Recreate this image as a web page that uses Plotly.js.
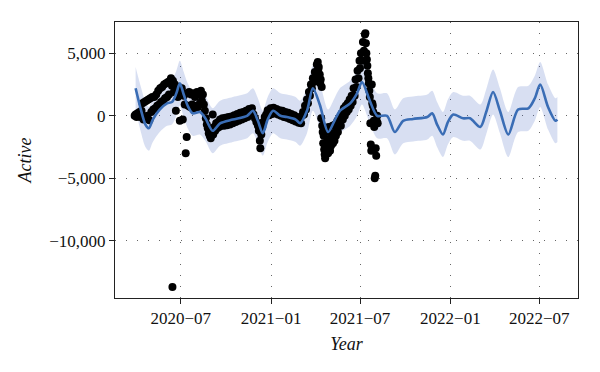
<!DOCTYPE html>
<html>
<head>
<meta charset="utf-8">
<script src="https://cdn.plot.ly/plotly-3.0.1.min.js"></script>
<style>html,body{margin:0;padding:0;background:#fff;}#chart{width:600px;height:372px;}</style>
</head>
<body>
<div id="chart"></div>
<script>
// Observed values (black dots), split by period
const datesA = [
"2020-03-29","2020-03-31","2020-04-02","2020-04-04","2020-04-06","2020-04-08","2020-04-10","2020-04-12",
"2020-04-14","2020-04-16","2020-04-18","2020-04-20","2020-04-22","2020-04-24","2020-04-26","2020-04-28","2020-04-30",
"2020-05-02","2020-05-04","2020-05-06","2020-05-08","2020-05-10","2020-05-12","2020-05-14","2020-05-16","2020-05-18",
"2020-05-20","2020-05-22","2020-05-24","2020-05-26","2020-05-28","2020-05-30",
"2020-06-01","2020-06-03","2020-06-05","2020-06-07","2020-06-09","2020-06-11"
];
const valuesA = [
0,100,-100,200,0,300,-100,400,
1000,-300,1100,-200,1200,0,1300,-350,1400,
300,1500,500,1500,600,1700,800,2000,900,
2200,1100,2300,1200,2500,1400,
2600,1500,2700,1700,2800,3000
];
const datesB = [
"2020-06-13","2020-06-14","2020-06-15","2020-06-17","2020-06-19","2020-06-21","2020-06-23","2020-06-25","2020-06-27","2020-06-29",
"2020-07-01","2020-07-03","2020-07-05","2020-07-07","2020-07-09","2020-07-11","2020-07-13","2020-07-14","2020-07-16","2020-07-18",
"2020-07-20","2020-07-22","2020-07-24","2020-07-26","2020-07-28","2020-07-30","2020-08-01","2020-08-03","2020-08-05","2020-08-07",
"2020-08-09","2020-08-11","2020-08-13","2020-08-15","2020-08-17","2020-08-19","2020-08-21","2020-08-23","2020-08-25","2020-08-27",
"2020-08-29","2020-08-31","2020-09-02","2020-09-04","2020-09-05","2020-09-07","2020-09-09","2020-09-11","2020-09-13","2020-09-15",
"2020-09-17","2020-09-19","2020-09-21"
];
const valuesB = [
2400,-13700,2800,1900,2500,400,2100,1500,2300,-400,
1900,2200,-300,1600,900,-3000,-1700,1800,800,1900,
700,1700,900,1800,600,1500,800,1900,700,1700,
1000,2000,1200,1700,900,400,-200,-700,-1000,-1400,
-1600,-1800,-1300,100,-1500,-900,-1200,-600,-1000,-500,
-900,-300,-800
];
const datesC = [
"2020-09-24","2020-09-27","2020-09-30","2020-10-03","2020-10-06","2020-10-09","2020-10-12","2020-10-15","2020-10-18","2020-10-21",
"2020-10-24","2020-10-27","2020-10-30","2020-11-02","2020-11-05","2020-11-08","2020-11-11","2020-11-14","2020-11-17","2020-11-20",
"2020-11-23","2020-11-26","2020-11-29","2020-12-02","2020-12-05","2020-12-07","2020-12-09","2020-12-10","2020-12-12","2020-12-14",
"2020-12-16","2020-12-19","2020-12-22","2020-12-25","2020-12-28","2020-12-31","2021-01-03","2021-01-06","2021-01-09","2021-01-12",
"2021-01-15","2021-01-18","2021-01-21","2021-01-24","2021-01-27","2021-01-30","2021-02-02","2021-02-05","2021-02-08","2021-02-11",
"2021-02-14","2021-02-17","2021-02-20","2021-02-23","2021-02-26","2021-03-01","2021-03-03","2021-03-05"
];
const valuesC = [
-200,-800,-150,-750,-100,-700,-50,-600,50,-500,
150,-400,250,-300,300,-200,400,-100,550,150,
600,100,-200,-500,-800,-1200,-2000,-2600,-1500,-900,
-500,-100,100,450,50,600,150,650,200,550,
100,450,0,400,-100,300,-150,250,-250,150,
-350,50,-450,-100,-550,-200,-600,0
];
const datesD = [
"2021-03-07","2021-03-09","2021-03-11","2021-03-13","2021-03-15","2021-03-17","2021-03-19","2021-03-21","2021-03-23","2021-03-25",
"2021-03-27","2021-03-29","2021-03-31","2021-04-02","2021-04-04","2021-04-06","2021-04-07","2021-04-08","2021-04-10","2021-04-11",
"2021-04-12","2021-04-13","2021-04-14","2021-04-15","2021-04-16","2021-04-17","2021-04-18","2021-04-19","2021-04-20","2021-04-21",
"2021-04-22","2021-04-23","2021-04-24","2021-04-25","2021-04-26","2021-04-27","2021-04-28","2021-04-29","2021-04-30","2021-05-01",
"2021-05-02","2021-05-03","2021-05-05","2021-05-06","2021-05-07","2021-05-09","2021-05-10","2021-05-11","2021-05-13","2021-05-15",
"2021-05-16","2021-05-17","2021-05-19","2021-05-21","2021-05-23","2021-05-25","2021-05-27","2021-05-29","2021-05-31"
];
const valuesD = [
300,100,800,500,1300,1000,1900,1600,2500,2200,
3000,2700,3500,3200,4100,4300,3700,3900,3300,2600,
2900,-200,2300,-800,-1300,-2200,-1600,-2700,-3100,-3400,
-2300,-3100,-1200,-2700,-1900,-3000,-900,-2500,-2000,-2800,
-1400,-2400,-1800,-800,-2200,-1400,-2000,-700,-1600,-1000,
-400,-1300,-600,-200,-800,200,-300,600,0
];
const datesE = [
"2021-06-02","2021-06-04","2021-06-06","2021-06-08","2021-06-10","2021-06-12","2021-06-14","2021-06-16","2021-06-18","2021-06-20",
"2021-06-22","2021-06-24","2021-06-26","2021-06-28","2021-06-30","2021-07-01","2021-07-03","2021-07-05","2021-07-07","2021-07-09",
"2021-07-11","2021-07-12","2021-07-13","2021-07-14","2021-07-15","2021-07-16","2021-07-17","2021-07-18","2021-07-19","2021-07-20",
"2021-07-21","2021-07-22","2021-07-23","2021-07-24","2021-07-25","2021-07-26","2021-07-27","2021-07-28","2021-07-29","2021-07-30",
"2021-07-31","2021-08-01","2021-08-02","2021-08-03","2021-08-04","2021-08-05","2021-08-06"
];
const valuesE = [
800,300,1000,500,1300,800,1600,1100,2200,1600,
2900,2300,3600,3000,4400,3800,5000,4400,5900,5200,
6500,6600,5800,5000,4500,4000,3400,3000,2600,2000,
1500,-600,-2300,-2800,2500,1000,800,300,-400,-900,
-5000,-4800,-2600,-3200,-400,0,-600
];

// Forecast (yhat) with uncertainty interval
const fcstDates = [
"2020-03-31","2020-04-10","2020-04-20","2020-04-27","2020-05-05","2020-05-19","2020-06-03","2020-06-13","2020-06-22","2020-06-29",
"2020-07-07","2020-07-15","2020-07-25","2020-08-09","2020-08-20","2020-09-04","2020-09-19","2020-10-15","2020-11-13","2020-11-25",
"2020-12-05","2020-12-15","2020-12-25","2021-01-05","2021-01-20","2021-02-02","2021-02-20","2021-03-01","2021-03-15","2021-03-27",
"2021-04-10","2021-04-27","2021-05-10","2021-05-21","2021-06-11","2021-06-25","2021-07-05","2021-07-21","2021-08-05","2021-08-25",
"2021-09-10","2021-09-27","2021-10-17","2021-11-15","2021-11-25","2021-12-05","2021-12-17","2021-12-27","2022-01-07","2022-01-27",
"2022-02-10","2022-03-03","2022-03-15","2022-03-29","2022-04-12","2022-04-29","2022-05-19","2022-06-09","2022-06-22","2022-07-03",
"2022-07-19","2022-08-03","2022-08-07"
];
const yhat = [
2200,600,-700,-1000,-300,500,1000,1100,1800,2600,
1700,800,200,300,-200,-1200,-600,-300,0,400,
-400,-1400,-300,400,0,-100,-300,-600,400,2200,
900,-1300,-400,400,1000,1800,2700,1200,0,0,
-1300,-400,-250,-100,200,-700,-1500,-500,100,-200,
-200,-900,300,1900,400,-1500,500,600,1400,2500,
700,-400,-300
];
const yhatUpper = [
3900,2400,1100,700,1400,2300,2800,2900,3600,4400,
3500,2600,2000,2100,1600,600,1200,1500,1800,2200,
1400,400,1500,2200,1800,1700,1500,1200,2200,4000,
2700,500,1400,2200,2800,3600,4500,3000,1800,1800,
500,1400,1550,1700,2000,1100,300,1300,1900,1600,
1600,900,2100,3700,2200,300,2300,2400,3200,4300,
2500,1400,1500
];
const yhatLower = [
500,-1200,-2500,-2800,-2100,-1300,-800,-700,0,800,
-100,-1000,-1600,-1500,-2000,-3000,-2400,-2100,-1800,-1400,
-2200,-3200,-2100,-1400,-1800,-1900,-2100,-2400,-1400,400,
-900,-3100,-2200,-1400,-800,0,900,-600,-1800,-1800,
-3100,-2200,-2050,-1900,-1600,-2500,-3300,-2300,-1700,-2000,
-2000,-2700,-1500,100,-1400,-3300,-1300,-1200,-400,700,
-1100,-2200,-2100
];

const xTickVals = ["2020-07-01","2021-01-01","2021-07-01","2022-01-01","2022-07-01"];
const xTickText = ["2020\u221207","2021\u221201","2021\u221207","2022\u221201","2022\u221207"];
const yTickVals = [5000,0,-5000,-10000];
const yTickText = ["5,000","0","\u22125,000","\u221210,000"];

const actualDates = [].concat(datesA, datesB, datesC, datesD, datesE);
const actualValues = [].concat(valuesA, valuesB, valuesC, valuesD, valuesE);

const lineBlue = '#3a6db5';
const bandFill = 'rgba(58,95,190,0.2)';

const traces = [
  {x: fcstDates, y: yhatLower, type: 'scatter', mode: 'lines',
   line: {width: 0, shape: 'spline', smoothing: 0.8}, hoverinfo: 'skip'},
  {x: fcstDates, y: yhatUpper, type: 'scatter', mode: 'lines', fill: 'tonexty',
   fillcolor: bandFill, line: {width: 0, shape: 'spline', smoothing: 0.8}, hoverinfo: 'skip'},
  {x: actualDates, y: actualValues, type: 'scatter', mode: 'markers',
   marker: {color: '#000', size: 8}, hoverinfo: 'skip'},
  {x: fcstDates, y: yhat, type: 'scatter', mode: 'lines',
   line: {color: lineBlue, width: 2.6, shape: 'spline', smoothing: 0.8}, hoverinfo: 'skip'}
];

const tickFont = {family: '"Liberation Serif", "DejaVu Serif", serif', size: 17, color: '#111'};
const titleFont = {family: '"Liberation Serif", "DejaVu Serif", serif', size: 18, color: '#111', style: 'italic'};

const layout = {
  width: 600, height: 372,
  margin: {l: 115, r: 22, t: 22, b: 74},
  paper_bgcolor: '#fff', plot_bgcolor: '#fff',
  showlegend: false,
  xaxis: {
    type: 'date',
    range: ['2020-02-18', '2022-09-18'],
    tickvals: xTickVals, ticktext: xTickText,
    ticks: 'outside', ticklen: 5, tickcolor: '#222', tickwidth: 1,
    showline: true, linecolor: '#222', linewidth: 1, mirror: true,
    showgrid: true, gridcolor: '#666', gridwidth: 1, griddash: '1px,10px',
    zeroline: false, tickfont: tickFont,
    title: {text: 'Year', font: titleFont, standoff: 9}
  },
  yaxis: {
    range: [-14570, 7500],
    tickvals: yTickVals, ticktext: yTickText,
    ticks: 'outside', ticklen: 5, tickcolor: '#222', tickwidth: 1,
    showline: true, linecolor: '#222', linewidth: 1, mirror: true,
    showgrid: true, gridcolor: '#666', gridwidth: 1, griddash: '1px,10px',
    zeroline: false, tickfont: tickFont,
    title: {text: 'Active', font: titleFont, standoff: 12}
  }
};

Plotly.newPlot('chart', traces, layout, {staticPlot: true, displayModeBar: false});
</script>
</body>
</html>
